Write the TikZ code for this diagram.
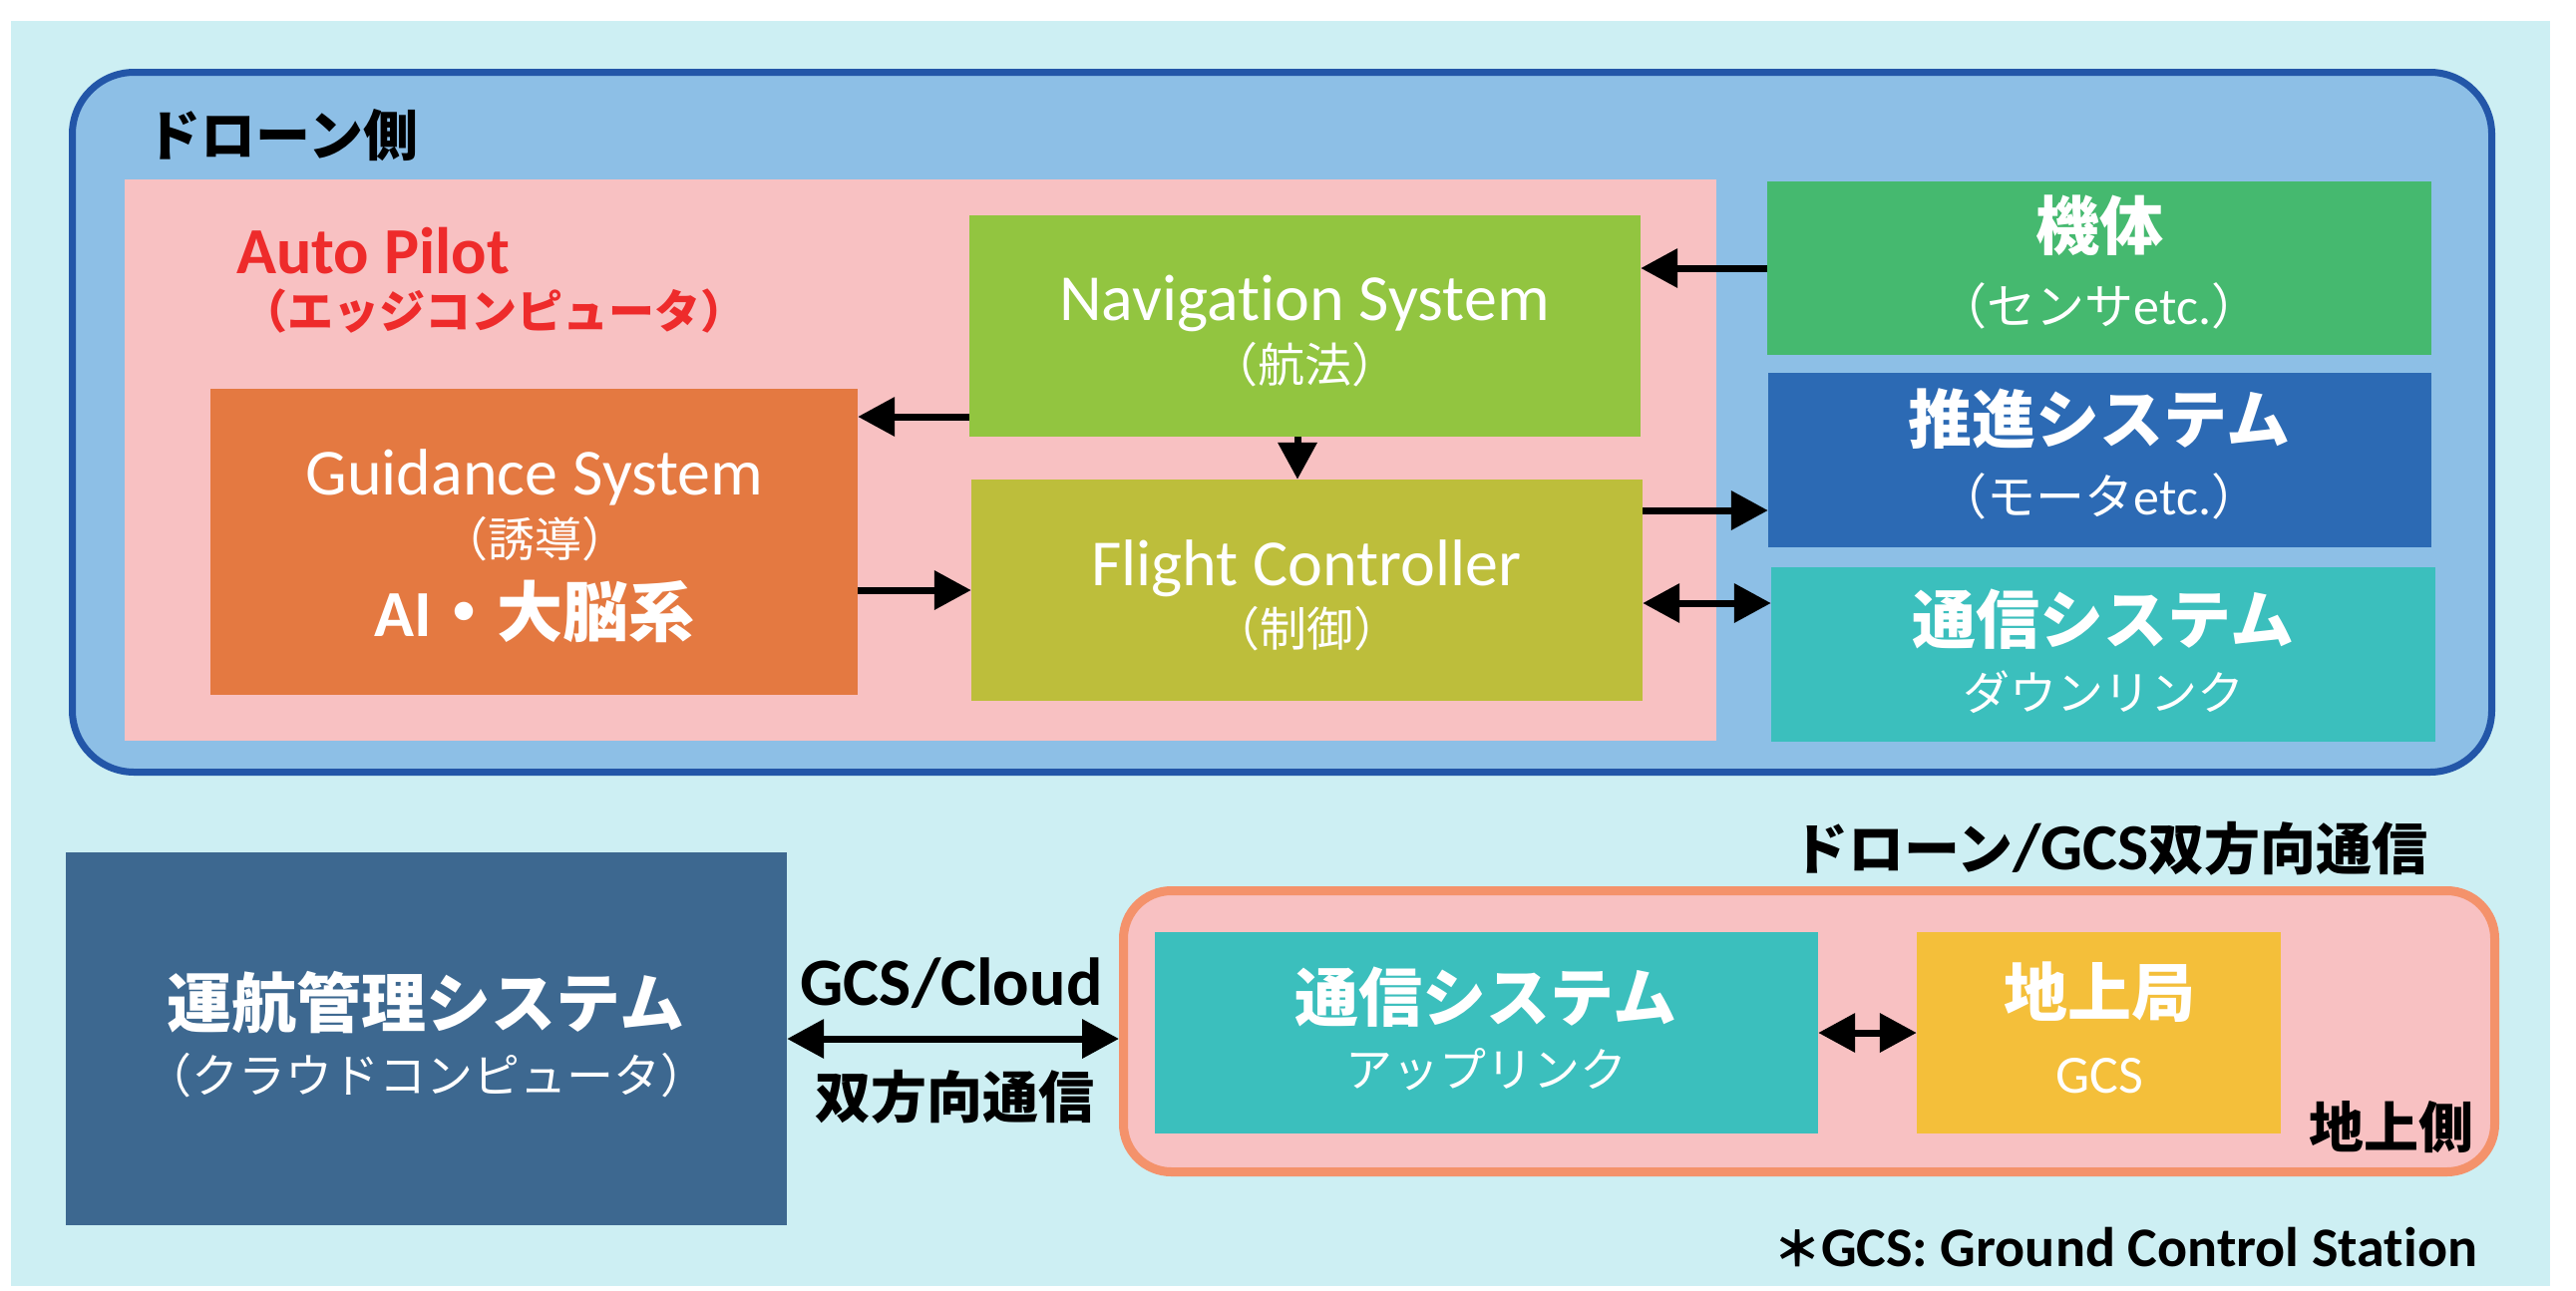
\documentclass[tikz,border=0pt]{standalone}
\usepackage{fontspec}
\setmainfont{Carlito}[Ligatures={NoCommon}]
\newfontfamily\jp{Noto Sans CJK JP}
\usetikzlibrary{arrows.meta}
\newcommand\fs[1]{\fontsize{#1pt}{#1pt}\selectfont}
\definecolor{bgc}{HTML}{CDEFF3}
\definecolor{dronefill}{HTML}{8DBFE6}
\definecolor{droneline}{HTML}{2356A8}
\definecolor{pinkc}{HTML}{F8C1C2}
\definecolor{navc}{HTML}{92C540}
\definecolor{guidc}{HTML}{E47941}
\definecolor{fcc}{HTML}{BDBE3B}
\definecolor{kitaic}{HTML}{45B96F}
\definecolor{suishinc}{HTML}{2C6AB4}
\definecolor{tsushinc}{HTML}{3BBFBD}
\definecolor{unkoc}{HTML}{3D6890}
\definecolor{chijoc}{HTML}{F4BF3A}
\definecolor{groundline}{HTML}{F4926B}
\definecolor{redt}{HTML}{EE2B2B}
\tikzset{
  box/.style={inner sep=0pt, draw=none},
  txt/.style={inner sep=0pt, text=white, anchor=center},
  btxt/.style={inner sep=0pt, text=black, anchor=center, font=\bfseries\fs{55}},
  arr/.style={line width=7pt, -{Triangle[length=37pt,width=38pt]}},
  darr/.style={line width=7pt, {Triangle[length=37pt,width=38pt]}-{Triangle[length=37pt,width=38pt]}}
}
\begin{document}
\begin{tikzpicture}[x=1pt,y=-1pt]
\useasboundingbox (0,0) rectangle (2583,1294);
% background
\node[box, fill=bgc, minimum width=2546, minimum height=1269] (bg) at (1284,655.5) {};
% drone side
\node[draw=droneline, line width=7pt, fill=dronefill, rounded corners=62pt, inner sep=0pt,
      minimum width=2426, minimum height=702] (drone) at (1285.5,423.5) {};
\node[btxt, font=\jp\bfseries\fs{55}] (droneL) at (283,136) {ドローン側};
\node[box, fill=pinkc, minimum width=1596, minimum height=563] (ap) at (923,461.5) {};
\node[inner sep=0pt, anchor=west, text=redt, font=\bfseries\fs{66}] (apT) at (237,252) {Auto Pilot};
\node[inner sep=0pt, anchor=west, text=redt, font=\jp\bfseries\fs{46}] (apS) at (242,312) {（エッジコンピュータ）};
% boxes
\node[box, fill=navc, minimum width=673, minimum height=222] (nav) at (1308.5,327) {};
\node[box, fill=guidc, minimum width=649, minimum height=307] (guid) at (535.5,543.5) {};
\node[box, fill=fcc, minimum width=673, minimum height=222] (fc) at (1310.5,592) {};
\node[box, fill=kitaic, minimum width=666, minimum height=174] (kitai) at (2105,269) {};
\node[box, fill=suishinc, minimum width=665, minimum height=175] (suishin) at (2105.5,461.5) {};
\node[box, fill=tsushinc, minimum width=666, minimum height=175] (tsushin1) at (2109,656.5) {};
% texts in boxes
\node[txt, font=\fs{66}] (navT) at (1308,304) {Navigation System};
\node[txt, font=\jp\fs{47}] (navS) at (1308,366) {（航法）};
\node[txt, font=\fs{66}] (guidT) at (536,479) {Guidance System};
\node[txt, font=\jp\fs{47}] (guidS) at (536,541) {（誘導）};
\node[txt, font=\bfseries\fs{66}] (guidA) at (536,613) {AI{\jp ・大脳系}};
\node[txt, font=\fs{66}] (fcT) at (1310,570) {Flight Controller};
\node[txt, font=\jp\fs{47}] (fcS) at (1310,631) {（制御）};
\node[txt, font=\jp\bfseries\fs{64}] (kitaiT) at (2105,226) {機体};
\node[txt, font=\fs{52}] (kitaiS) at (2105,307) {{\jp\fs{49}（センサ}etc.{\jp\fs{49}）}};
\node[txt, font=\jp\bfseries\fs{64}] (suishinT) at (2105,420) {推進システム};
\node[txt, font=\fs{52}] (suishinS) at (2105,498) {{\jp\fs{49}（モータ}etc.{\jp\fs{49}）}};
\node[txt, font=\jp\bfseries\fs{64}] (tsushin1T) at (2109,621) {通信システム};
\node[txt, font=\jp\fs{47}] (tsushin1S) at (2109,694) {ダウンリンク};
% drone arrows
\coordinate (c1) at (0,418);
\coordinate (c2) at (1301,0);
\coordinate (c3) at (0,512);
\coordinate (c4) at (0,605);
\draw[arr] (kitai.west) -- (kitai.west -| nav.east);
\draw[arr] (nav.west |- c1) -- (guid.east |- c1);
\draw[arr] (nav.south -| c2) -- (fc.north -| c2);
\draw[arr] (guid.east |- fc.west) -- (fc.west);
\draw[arr] (fc.east |- c3) -- (suishin.west |- c3);
\draw[darr] (fc.east |- c4) -- (tsushin1.west |- c4);
% ground side
\node[box, fill=unkoc, minimum width=723, minimum height=374] (unko) at (427.5,1042) {};
\node[txt, font=\jp\bfseries\fs{65}] (unkoT) at (427,1006) {運航管理システム};
\node[txt, font=\jp\fs{47}] (unkoS) at (427,1079) {（クラウドコンピュータ）};
\node[draw=groundline, line width=9pt, fill=pinkc, rounded corners=48pt, inner sep=0pt,
      minimum width=1375, minimum height=282] (ground) at (1814,1034.5) {};
\node[box, fill=tsushinc, minimum width=665, minimum height=202] (tsushin2) at (1490.5,1036) {};
\node[box, fill=chijoc, minimum width=365, minimum height=202] (chijo) at (2104.5,1036) {};
\node[txt, font=\jp\bfseries\fs{64}] (tsushin2T) at (1490,1000) {通信システム};
\node[txt, font=\jp\fs{47}] (tsushin2S) at (1490,1073) {アップリンク};
\node[txt, font=\jp\bfseries\fs{64}] (chijoT) at (2105,995) {地上局};
\node[txt, font=\fs{54}] (chijoS) at (2105,1079) {GCS};
\node[btxt, font=\bfseries\fs{68}] (gcsCloud) at (954,986) {GCS/Cloud};
\node[btxt, font=\jp\bfseries\fs{56}] (sohoko) at (957,1100) {双方向通信};
\node[btxt, font=\bfseries\fs{66}] (droneGcs) at (2116,851) {{\jp\fs{56}ドローン}/GCS{\jp\fs{56}双方向通信}};
\node[btxt, font=\jp\bfseries\fs{55}] (chijoSide) at (2398,1131) {地上側};
\node[btxt, font=\bfseries\fs{56}] (note) at (2131,1251) {{\jp\fs{48}＊}GCS: Ground Control Station};
\draw[darr] (unko.east) -- (unko.east -| ground.west);
\draw[darr] (tsushin2.east) -- (chijo.west);
\end{tikzpicture}
\end{document}
